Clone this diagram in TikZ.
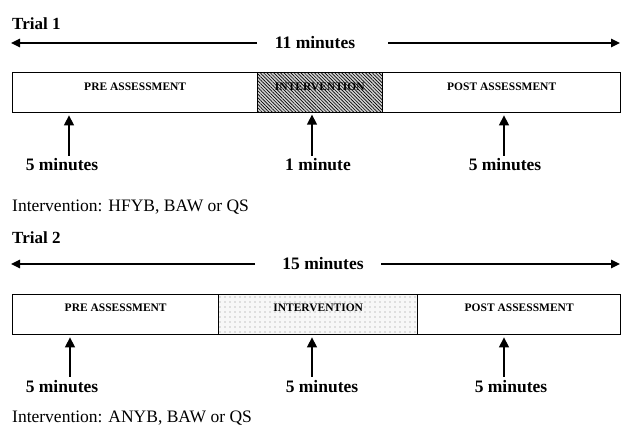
\documentclass[tikz,border=0pt]{standalone}
\usepackage{fontspec}
\setmainfont{Liberation Serif}
\usetikzlibrary{arrows.meta,patterns.meta}
\begin{document}
\begin{tikzpicture}[x=1pt,y=-1pt,
  seg/.style={draw, line width=1.4pt, inner sep=0pt, minimum height=40pt, anchor=north west},
  hatchbox/.style={seg, preaction={fill=gray!35}, pattern={Lines[angle=-45,distance=2.4pt,line width=0.65pt]}},
  dotbox/.style={seg, preaction={fill=gray!6}, pattern={Dots[distance=5pt,radius=0.6pt]}, pattern color=gray!90},
  boxtxt/.style={font=\fontsize{11.5}{12}\selectfont\bfseries, inner sep=0pt},
  ttl/.style={font=\fontsize{17}{18}\selectfont\bfseries, anchor=west, inner sep=0pt},
  lab/.style={font=\fontsize{17.5}{18}\selectfont\bfseries, inner sep=0pt},
  note/.style={font=\fontsize{17.5}{18}\selectfont, anchor=west, inner sep=0pt},
  harrow/.style={line width=1.4pt, -{Triangle[length=9pt,width=8.5pt]}},
  varrow/.style={line width=1.4pt, -{Triangle[length=10pt,width=10pt]}, shorten >=2pt}]
\useasboundingbox (0,0) rectangle (621,427);

% ---------- Trial 1 ----------
\node[ttl] (t1) at (12,24) {Trial 1};
\node[lab] (m1) at (315,43) {11 minutes};
\coordinate (m1l) at (257,43);
\coordinate (m1le) at (11,43);
\coordinate (m1r) at (388,43);
\coordinate (m1re) at (620,43);
\draw[harrow] (m1l) -- (m1le);
\draw[harrow] (m1r) -- (m1re);

\node[seg, minimum width=245pt] (pre1) at (12,72) {};
\node[hatchbox, minimum width=125pt] (int1) at (257,72) {};
\node[seg, minimum width=238pt] (post1) at (382,72) {};
\node[boxtxt] (pre1t) at ([yshift=6pt]pre1.center) {PRE ASSESSMENT};
\node[boxtxt] (int1t) at ([yshift=6pt]int1.center) {INTERVENTION};
\node[boxtxt] (post1t) at ([yshift=6pt]post1.center) {POST ASSESSMENT};

\node[lab] (l11) at (62,165) {5 minutes};
\node[lab] (l12) at (318,165) {1 minute};
\node[lab] (l13) at (505,165) {5 minutes};
\coordinate (a11) at (69,156);
\coordinate (a12) at (312,156);
\coordinate (a13) at (504,156);
\draw[varrow] (a11) -- (a11 |- pre1.south);
\draw[varrow] (a12) -- (a12 |- int1.south);
\draw[varrow] (a13) -- (a13 |- post1.south);

\node[note] (n1) at (12,207) {Intervention: HFYB, BAW or QS};

% ---------- Trial 2 ----------
\node[ttl] (t2) at (12,238) {Trial 2};
\node[lab] (m2) at (323,264) {15 minutes};
\coordinate (m2l) at (255,264);
\coordinate (m2le) at (11,264);
\coordinate (m2r) at (381,264);
\coordinate (m2re) at (620,264);
\draw[harrow] (m2l) -- (m2le);
\draw[harrow] (m2r) -- (m2re);

\node[seg, minimum width=206pt] (pre2) at (12,294) {};
\node[dotbox, minimum width=199pt] (int2) at (218,294) {};
\node[seg, minimum width=203pt] (post2) at (417,294) {};
\node[boxtxt] (pre2t) at ([yshift=7pt]pre2.center) {PRE ASSESSMENT};
\node[boxtxt] (int2t) at ([yshift=7pt]int2.center) {INTERVENTION};
\node[boxtxt] (post2t) at ([yshift=7pt]post2.center) {POST ASSESSMENT};

\node[lab] (l21) at (62,387) {5 minutes};
\node[lab] (l22) at (322,387) {5 minutes};
\node[lab] (l23) at (511,387) {5 minutes};
\coordinate (a21) at (70,377);
\coordinate (a22) at (312,377);
\coordinate (a23) at (504,377);
\draw[varrow] (a21) -- (a21 |- pre2.south);
\draw[varrow] (a22) -- (a22 |- int2.south);
\draw[varrow] (a23) -- (a23 |- post2.south);

\node[note] (n2) at (12,418) {Intervention: ANYB, BAW or QS};
\end{tikzpicture}
\end{document}
